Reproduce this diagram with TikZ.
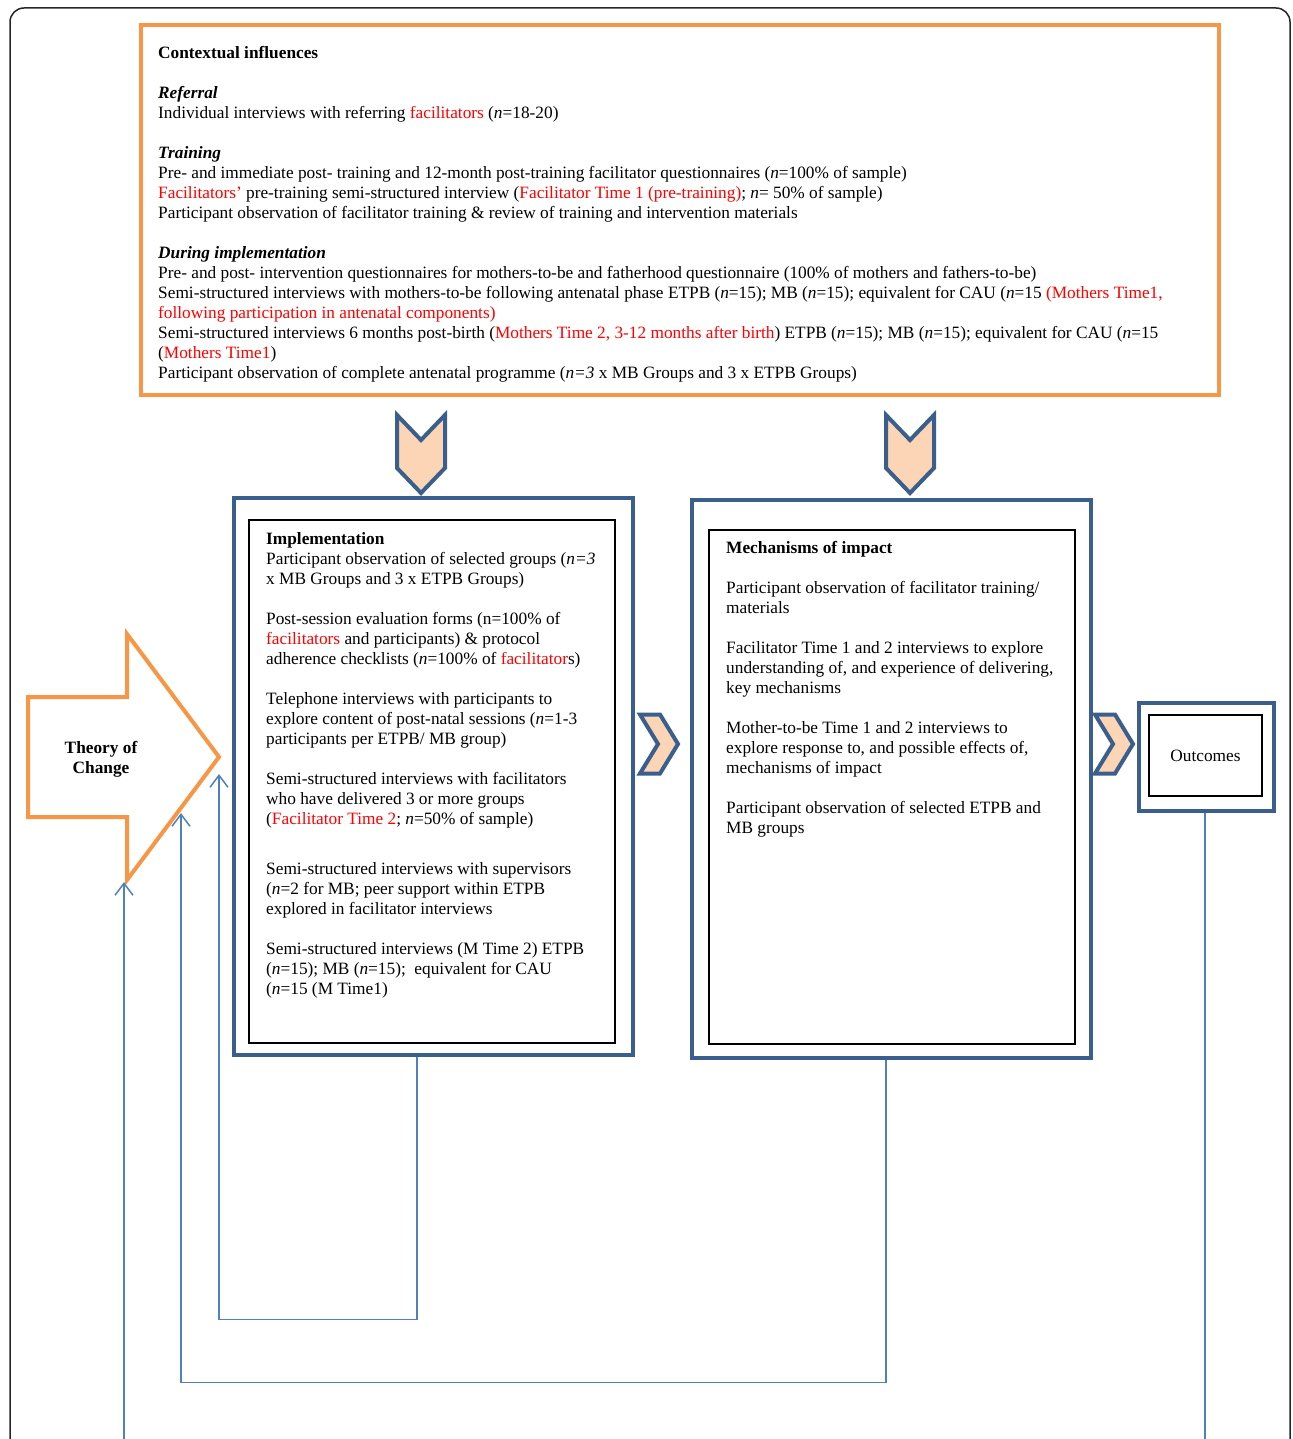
\documentclass[tikz,border=0pt]{standalone}
\usepackage{fontspec}
\setmainfont{Liberation Serif}
\usepackage{tikz}
\usetikzlibrary{arrows.meta,positioning}
\definecolor{orangeline}{HTML}{F79646}
\definecolor{steelblue}{HTML}{3B5F8C}
\definecolor{linkblue}{HTML}{4F81BD}
\definecolor{peach}{HTML}{FBD5B5}
\definecolor{redtext}{HTML}{FF0000}
\newcommand{\rd}[1]{\textcolor{redtext}{#1}}
\tikzstyle{contextbox} = [draw=orangeline, line width=4pt, inner sep=0pt, minimum width=1078pt, minimum height=370pt]
\tikzstyle{bluebox} = [draw=steelblue, line width=4.5pt, inner sep=0pt]
\tikzstyle{plainbox} = [draw=black, line width=1.8pt, inner sep=0pt]
\tikzstyle{boxtext} = [anchor=north west, align=left, inner sep=0pt, font=\fontsize{17.3}{20}\selectfont]
\tikzstyle{chevron} = [draw=steelblue, fill=peach, line width=4pt, line join=miter]
\tikzstyle{feedback} = [draw=linkblue, line width=1.5pt, -{Straight Barb[length=12pt,width=18pt]}]

\begin{document}
\begin{tikzpicture}[x=1pt,y=-1pt]
					\useasboundingbox (0,0) rectangle (1292,1439);
					\clip (0,0) rectangle (1292,1439);
					\draw[black!85, line width=1.5pt, rounded corners=14pt] (10,1460) -- (10,8) -- (1290,8) -- (1290,1460);
					\node [contextbox] (context) at (680,210) {};
					\node [boxtext] (contexttxt) at (158,46) {%
					   		\textbf{Contextual influences}\\[20pt]
					   		\textbf{\textit{Referral}}\\
					   		Individual interviews with referring \rd{facilitators} (\textit{n}=18-20)\\[20pt]
					   		\textbf{\textit{Training}}\\
					   		Pre- and immediate post- training and 12-month post-training facilitator questionnaires (\textit{n}=100\% of sample)\\
					   		\rd{Facilitators’} pre-training semi-structured interview (\rd{Facilitator Time 1 (pre-training)}; \textit{n}= 50\% of sample)\\
					   		Participant observation of facilitator training \& review of training and intervention materials\\[20pt]
					   		\textbf{\textit{During implementation}}\\
					   		Pre- and post- intervention questionnaires for mothers-to-be and fatherhood questionnaire (100\% of mothers and fathers-to-be)\\
					   		Semi-structured interviews with mothers-to-be following antenatal phase ETPB (\textit{n}=15); MB (\textit{n}=15); equivalent for CAU (\textit{n}=15 \rd{(Mothers Time1,}\\
					   		\rd{following participation in antenatal components)}\\
					   		Semi-structured interviews 6 months post-birth (\rd{Mothers Time 2, 3-12 months after birth}) ETPB (\textit{n}=15); MB (\textit{n}=15); equivalent for CAU (\textit{n}=15\\
					   		(\rd{Mothers Time1})\\
					   		Participant observation of complete antenatal programme (\textit{n=3} x MB Groups and 3 x ETPB Groups)
					};
					\foreach \cx in {397,886}
						\draw[chevron] (\cx,415) -- ++(24,25) -- ++(24,-25) -- ++(0,53) -- ++(-24,25) -- ++(-24,-25) -- cycle;
					\node [bluebox, minimum width=399pt, minimum height=557pt] (implout) at (433.5,776.5) {};
					\node [plainbox, minimum width=366pt, minimum height=523pt] (implin) at (432,781.5) {};
					\node [boxtext] (impltxt) at (266,532) {%
					   		\textbf{Implementation}\\
					   		Participant observation of selected groups (\textit{n=3}\\
					   		x MB Groups and 3 x ETPB Groups)\\[20pt]
					   		Post-session evaluation forms (n=100\% of\\
					   		\rd{facilitators} and participants) \& protocol\\
					   		adherence checklists (\textit{n}=100\% of \rd{facilitator}s)\\[20pt]
					   		Telephone interviews with participants to\\
					   		explore content of post-natal sessions (\textit{n}=1-3\\
					   		participants per ETPB/ MB group)\\[20pt]
					   		Semi-structured interviews with facilitators\\
					   		who have delivered 3 or more groups\\
					   		(\rd{Facilitator Time 2}; \textit{n}=50\% of sample)\\[30pt]
					   		Semi-structured interviews with supervisors\\
					   		(\textit{n}=2 for MB; peer support within ETPB\\
					   		explored in facilitator interviews\\[20pt]
					   		Semi-structured interviews (M Time 2) ETPB\\
					   		(\textit{n}=15); MB (\textit{n}=15);\ \ equivalent for CAU\\
					   		(\textit{n}=15 (M Time1)
					};
					\node [bluebox, minimum width=399pt, minimum height=558pt] (mechout) at (891.5,779) {};
					\node [plainbox, minimum width=366pt, minimum height=514pt] (mechin) at (892,787) {};
					\node [boxtext] (mechtxt) at (726,541) {%
					   		\textbf{Mechanisms of impact}\\[20pt]
					   		Participant observation of facilitator training/\\
					   		materials\\[20pt]
					   		Facilitator Time 1 and 2 interviews to explore\\
					   		understanding of, and experience of delivering,\\
					   		key mechanisms\\[20pt]
					   		Mother-to-be Time 1 and 2 interviews to\\
					   		explore response to, and possible effects of,\\
					   		mechanisms of impact\\[20pt]
					   		Participant observation of selected ETPB and\\
					   		MB groups
					};
					\foreach \cx in {640,1095}
						\draw[chevron] (\cx,714.5) -- ++(20,0) -- ++(18,29.5) -- ++(-18,29.5) -- ++(-20,0) -- ++(18,-29.5) -- cycle;
					\node [bluebox, minimum width=135pt, minimum height=108pt] (outout) at (1206.5,757) {};
					\node [plainbox, minimum width=113pt, minimum height=81pt, font=\fontsize{17.3}{20}\selectfont] (outin) at (1205.5,755.5) {Outcomes};
					\draw[draw=orangeline, line width=4pt, line join=miter] (28,697) -- (127,697) -- (127,634) -- (219,757) -- (127,880) -- (127,817) -- (28,817) -- cycle;
					\node [align=center, font=\fontsize{17.3}{20}\selectfont\bfseries] (theory) at (101,759) {Theory of\\Change};
					\coordinate (implback) at (219,774);
					\coordinate (mechback) at (181,813);
					\coordinate (outback) at (124,882);
					\draw[feedback] ([xshift=-16.5pt]implout.south) -- ++(0,262) -| (implback);
					\draw[feedback] ([xshift=-5.5pt]mechout.south) -- ++(0,322) -| (mechback);
					\draw[feedback] ([xshift=-1.5pt]outout.south) -- ++(0,650) -| (outback);
\end{tikzpicture}
\end{document}
